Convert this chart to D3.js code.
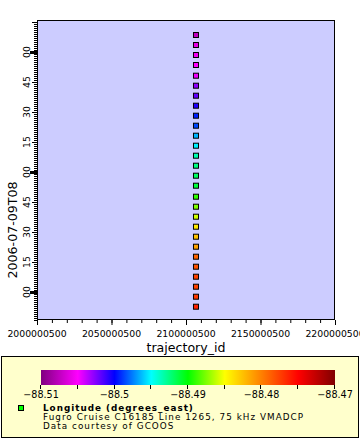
<!DOCTYPE html>
<html><head><meta charset="utf-8">
<script src="https://cdn.jsdelivr.net/npm/d3@7"></script>
<style>body{margin:0;background:#fff}svg{display:block;font-family:"DejaVu Sans",sans-serif}</style>
</head><body>
<script>
// ---- data ----
const trajectoryId = 2106700000;
const times = ["2006-07-09T07:52:39Z","2006-07-09T07:57:39Z","2006-07-09T08:02:39Z","2006-07-09T08:07:39Z",
"2006-07-09T08:12:39Z","2006-07-09T08:17:39Z","2006-07-09T08:22:39Z","2006-07-09T08:27:39Z",
"2006-07-09T08:32:39Z","2006-07-09T08:37:39Z","2006-07-09T08:42:39Z","2006-07-09T08:47:39Z",
"2006-07-09T08:53:09Z","2006-07-09T08:58:09Z","2006-07-09T09:03:09Z","2006-07-09T09:08:09Z",
"2006-07-09T09:13:09Z","2006-07-09T09:18:09Z","2006-07-09T09:23:09Z","2006-07-09T09:28:09Z",
"2006-07-09T09:33:09Z","2006-07-09T09:38:09Z","2006-07-09T09:43:09Z","2006-07-09T09:48:09Z",
"2006-07-09T09:53:30Z","2006-07-09T09:58:30Z","2006-07-09T10:03:30Z","2006-07-09T10:08:30Z"];
const longitudes = [-88.4763,-88.4772,-88.4775,-88.4775,-88.4781,-88.4788,-88.4813,-88.4825,
-88.4841,-88.4859,-88.4875,-88.4891,-88.4912,-88.4919,-88.4925,-88.4935,
-88.4953,-88.4965,-88.4986,-88.4994,-88.5006,-88.5019,-88.5028,-88.5047,
-88.5050,-88.5055,-88.5060,-88.5075];
const xTicks = [2000000500,2050000500,2100000500,2150000500,2200000500];
const colorStops = [-88.51,-88.505,-88.5,-88.495,-88.49,-88.485,-88.48,-88.475,-88.47];
const colorRange = ["#800080","#ff00ff","#0000ff","#00ffff","#00ff00","#ffff00","#ff8000","#ff0000","#800000"];
const cbarTicks = [-88.51,-88.5,-88.49,-88.48,-88.47];
const xTitle = "trajectory_id";
const yTitle = "2006-07-09T08";
const legendTitle = "Longitude (degrees_east)";
const legendLines = ["Fugro Cruise C16185 Line 1265, 75 kHz VMADCP","Data courtesy of GCOOS"];

// ---- chart ----
const W=360,H=440;
const L=37,R=335,T=20,B=320;
const svg=d3.select("body").append("svg").attr("width",W).attr("height",H);
const x=d3.scaleLinear().domain([2000000500,2200000500]).range([L,R]);
const y=d3.scaleUtc().domain([new Date("2006-07-09T07:46:00Z"),new Date("2006-07-09T10:16:00Z")]).range([B,T]);
const color=d3.scaleLinear().domain(colorStops).range(colorRange);

svg.append("rect").attr("x",L).attr("y",T).attr("width",R-L).attr("height",B-T).attr("fill","#ccccff");

// x axis
const xMinor=d3.range(2000000500,2200000501,10000000);
svg.append("g").selectAll("line").data(xMinor).join("line")
 .attr("x1",d=>x(d)+0.5).attr("x2",d=>x(d)+0.5).attr("y1",B).attr("y2",B+3).attr("stroke","#000");
svg.append("g").selectAll("line").data(xTicks).join("line")
 .attr("x1",d=>x(d)+0.5).attr("x2",d=>x(d)+0.5).attr("y1",B).attr("y2",B+5).attr("stroke","#000");
svg.append("g").selectAll("text").data(xTicks).join("text")
 .attr("x",d=>x(d)).attr("y",337).attr("text-anchor","middle").attr("font-size",9.3).text(d=>d3.format("d")(d));
svg.append("text").attr("x",(L+R)/2).attr("y",352).attr("text-anchor","middle").attr("font-size",12.6).text(xTitle);

// y axis
const yMinor=d3.utcMinute.range(y.domain()[0],y.domain()[1]);
svg.append("g").selectAll("line").data(yMinor).join("line")
 .attr("x1",L-3).attr("x2",L).attr("y1",d=>Math.round(y(d))+0.5).attr("y2",d=>Math.round(y(d))+0.5).attr("stroke","#000");
const yMajor=d3.utcMinute.every(15).range(y.domain()[0],y.domain()[1]);
svg.append("g").selectAll("line").data(yMajor).join("line")
 .attr("x1",d=>d.getUTCMinutes()===0?L-7:L-5).attr("x2",L)
 .attr("y1",d=>Math.round(y(d))+0.5).attr("y2",d=>Math.round(y(d))+0.5)
 .attr("stroke","#000").attr("stroke-width",d=>d.getUTCMinutes()===0?3:1);
svg.append("g").selectAll("text").data(yMajor.filter(d=>y(d)>T+12)).join("text")
 .attr("transform",d=>`translate(30,${y(d)}) rotate(-90)`).attr("text-anchor","middle").attr("font-size",9.3)
 .text(d3.utcFormat("%M"));
svg.append("text").attr("transform","translate(17,230) rotate(-90)").attr("text-anchor","middle").attr("font-size",12.6).text(yTitle);

// frame
svg.append("rect").attr("x",L+0.5).attr("y",T+0.5).attr("width",R-L-1).attr("height",B-T-1).attr("fill","none").attr("stroke","#000");

// points
svg.append("g").selectAll("rect").data(times.map((t,i)=>({t:new Date(t),v:longitudes[i]}))).join("rect")
 .attr("x",x(trajectoryId)-2.5).attr("y",d=>y(d.t)-2.5).attr("width",5).attr("height",5)
 .attr("fill",d=>color(d.v)).attr("stroke","#000").attr("stroke-width",1);

// legend
svg.append("rect").attr("x",1.5).attr("y",356.5).attr("width",357).attr("height",81).attr("fill","#ffffcc").attr("stroke","#000");
const cx=d3.scaleLinear().domain([-88.51,-88.47]).range([41,335]);
const grad=svg.append("defs").append("linearGradient").attr("id","cb");
colorStops.forEach((s,i)=>grad.append("stop").attr("offset",((s+88.51)/0.04*100)+"%").attr("stop-color",colorRange[i]));
svg.append("rect").attr("x",41).attr("y",370).attr("width",294).attr("height",15).attr("fill","url(#cb)");
svg.append("g").selectAll("line").data(colorStops).join("line")
 .attr("x1",d=>Math.round(cx(d))-0.5).attr("x2",d=>Math.round(cx(d))-0.5).attr("y1",385).attr("y2",389).attr("stroke","#000");
svg.append("g").selectAll("text").data(cbarTicks).join("text")
 .attr("x",d=>cx(d)).attr("y",398).attr("text-anchor","middle").attr("font-size",9.6).text(d=>d3.format("")(d));
svg.append("rect").attr("x",18.5).attr("y",405.5).attr("width",5).attr("height",5).attr("fill","#00ff00").attr("stroke","#000");
svg.append("text").attr("x",43).attr("y",411).attr("font-size",8.8).attr("letter-spacing",1.0).attr("font-weight","bold").text(legendTitle);
svg.append("g").selectAll("text").data(legendLines).join("text")
 .attr("x",43).attr("y",(d,i)=>420+i*9).attr("font-size",8.8).attr("letter-spacing",1.05).text(d=>d);
</script>
</body></html>
